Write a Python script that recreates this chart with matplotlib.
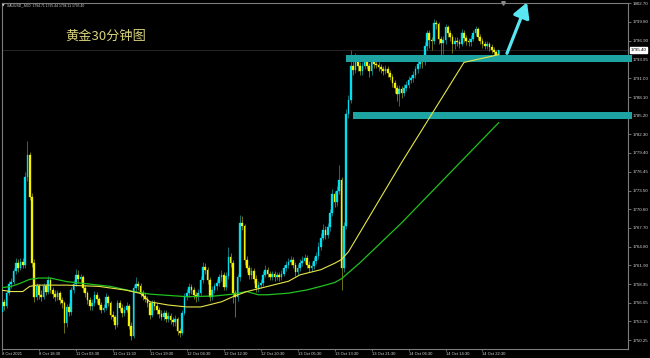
import numpy as np
import matplotlib
matplotlib.use("Agg")
import matplotlib.pyplot as plt
import matplotlib.transforms as mtransforms
from matplotlib.patches import Rectangle

# ---------------- data ----------------
header_text = "XAUUSD_,M30  1794.71 1795.44 1794.11 1795.40"
title_text = "黄金30分钟图"

first_open = 1754.6
closes = [
    1756.2, 1755.6, 1757.6, 1758.9, 1759.3, 1761.0, 1762.3, 1761.5, 1762.4, 1762.0,
    1775.7, 1779.1, 1772.6, 1762.3, 1757.0, 1758.6, 1757.3, 1757.0, 1758.6, 1757.8,
    1759.6, 1758.0, 1757.4, 1757.0, 1757.5, 1756.5, 1756.0, 1752.9, 1755.4, 1754.6,
    1758.0, 1759.0, 1760.3, 1759.8, 1760.0, 1758.3, 1757.5, 1756.5, 1755.5, 1756.0,
    1757.3, 1756.6, 1755.7, 1755.0, 1755.3, 1756.9, 1756.0, 1754.2, 1753.8, 1752.6,
    1756.0, 1755.3, 1754.5, 1755.0, 1755.5, 1752.5, 1750.8, 1758.3, 1759.0, 1758.7,
    1757.6, 1757.1, 1756.7, 1756.0, 1754.2, 1756.0, 1755.5, 1754.9, 1754.3, 1753.9,
    1754.4, 1753.6, 1754.0, 1753.3, 1753.0, 1753.5, 1751.6, 1751.3, 1754.5, 1757.0,
    1757.5, 1758.5, 1758.0, 1757.2, 1756.9, 1757.6, 1759.6, 1761.7, 1761.2, 1759.6,
    1757.0, 1758.0, 1758.6, 1759.2, 1760.0, 1760.4, 1758.5, 1760.2, 1763.2, 1762.3,
    1757.6, 1757.0, 1760.0, 1768.5, 1768.0, 1762.7, 1761.5, 1760.3, 1761.0, 1759.8,
    1758.3, 1758.8, 1759.1, 1760.4, 1761.2, 1760.6, 1760.1, 1760.5, 1760.0, 1760.4,
    1760.0, 1760.6, 1761.4, 1762.0, 1762.4, 1762.7, 1762.0, 1760.8, 1761.5, 1762.2,
    1762.6, 1763.0, 1762.0, 1761.5, 1761.8, 1762.6, 1763.3, 1764.8, 1766.2, 1767.4,
    1766.6, 1767.8, 1770.0, 1773.0, 1771.7, 1773.5, 1775.2, 1761.5, 1768.0, 1785.5,
    1787.7, 1792.9, 1792.3, 1793.5, 1792.9, 1792.1, 1793.0, 1793.9, 1793.0, 1792.1,
    1793.5, 1793.3, 1793.1, 1792.8, 1792.4, 1792.1, 1792.5, 1791.8, 1791.3, 1790.3,
    1789.5, 1788.5, 1789.3, 1788.7, 1789.5, 1790.0, 1790.8, 1791.0, 1791.6, 1792.4,
    1793.2, 1794.0, 1793.6, 1796.0, 1798.1, 1797.0, 1796.8, 1799.7, 1799.5, 1797.1,
    1796.5, 1797.0, 1799.0, 1798.1, 1797.5, 1796.3, 1796.9, 1796.6, 1796.4, 1798.1,
    1797.3, 1796.8, 1796.6, 1797.2, 1798.1, 1798.7, 1797.5, 1796.9, 1796.4, 1796.1,
    1796.3, 1795.9, 1795.5, 1795.1, 1794.71, 1795.40,
]
highs = [
    1756.8, 1756.6, 1758.0, 1759.4, 1759.9, 1761.5, 1763.0, 1762.8, 1763.1, 1763.0,
    1776.4, 1781.2, 1779.6, 1773.2, 1762.8, 1759.2, 1759.0, 1758.0, 1759.1, 1759.0,
    1760.2, 1760.0, 1758.5, 1758.0, 1758.1, 1757.9, 1757.0, 1756.4, 1755.9, 1756.0,
    1758.5, 1759.6, 1761.3, 1761.2, 1760.6, 1760.4, 1758.8, 1757.9, 1757.0, 1756.6,
    1757.9, 1757.8, 1757.0, 1756.1, 1755.9, 1757.5, 1757.3, 1756.4, 1754.8, 1754.2,
    1756.5, 1756.5, 1755.8, 1755.6, 1756.1, 1755.9, 1753.0, 1758.8, 1760.0, 1759.5,
    1759.1, 1758.1, 1757.6, 1757.1, 1756.4, 1756.5, 1756.5, 1756.0, 1755.4, 1754.9,
    1755.0, 1754.9, 1754.6, 1754.5, 1753.8, 1754.1, 1753.9, 1752.1, 1755.0, 1757.5,
    1758.2, 1759.2, 1759.0, 1758.5, 1757.8, 1758.2, 1760.2, 1762.4, 1762.3, 1761.6,
    1760.0, 1758.6, 1759.2, 1759.8, 1760.6, 1761.2, 1760.8, 1760.8, 1764.7, 1763.8,
    1762.7, 1758.1, 1760.5, 1769.8, 1769.5, 1768.4, 1763.4, 1762.0, 1761.6, 1761.5,
    1760.3, 1759.5, 1759.7, 1761.0, 1761.9, 1761.7, 1761.0, 1761.0, 1761.0, 1760.9,
    1760.8, 1761.2, 1762.0, 1762.6, 1763.1, 1763.4, 1763.2, 1762.4, 1762.1, 1762.8,
    1763.3, 1763.7, 1763.5, 1762.6, 1762.4, 1763.2, 1763.9, 1765.5, 1766.9, 1768.3,
    1768.0, 1768.5, 1770.7, 1773.7, 1773.5, 1774.2, 1777.5, 1775.6, 1768.6, 1786.2,
    1788.4, 1795.5, 1794.6, 1795.0, 1794.3, 1793.6, 1793.6, 1794.5, 1794.3, 1793.4,
    1794.1, 1794.0, 1794.0, 1793.6, 1793.3, 1792.9, 1793.1, 1792.9, 1792.3, 1791.7,
    1790.7, 1790.0, 1789.9, 1789.8, 1790.1, 1790.6, 1791.4, 1791.6, 1792.2, 1793.0,
    1793.8, 1794.6, 1794.5, 1796.6, 1798.6, 1798.5, 1797.5, 1800.2, 1800.1, 1799.8,
    1797.6, 1797.6, 1799.5, 1799.4, 1798.5, 1797.9, 1797.5, 1797.4, 1797.1, 1798.7,
    1798.6, 1797.8, 1797.3, 1797.8, 1798.6, 1799.1, 1799.0, 1797.9, 1797.3, 1796.9,
    1796.8, 1796.7, 1796.3, 1795.9, 1795.5, 1795.44,
]
lows = [
    1754.0, 1755.0, 1755.2, 1757.2, 1758.4, 1759.0, 1760.6, 1760.9, 1761.2, 1761.4,
    1761.5, 1775.0, 1772.0, 1761.6, 1756.2, 1756.5, 1756.7, 1756.4, 1756.6, 1757.2,
    1757.4, 1757.5, 1756.8, 1756.3, 1756.5, 1755.9, 1755.3, 1751.3, 1752.3, 1754.0,
    1754.2, 1757.5, 1758.6, 1759.2, 1759.2, 1757.8, 1756.9, 1755.9, 1754.9, 1755.0,
    1755.6, 1756.0, 1755.1, 1754.4, 1754.6, 1754.9, 1755.5, 1753.6, 1753.2, 1752.0,
    1752.2, 1754.8, 1753.9, 1754.0, 1754.6, 1752.0, 1750.3, 1750.5, 1757.8, 1758.0,
    1757.0, 1756.5, 1756.1, 1755.4, 1753.6, 1753.8, 1754.9, 1754.3, 1753.7, 1753.3,
    1753.4, 1753.0, 1753.1, 1752.8, 1752.4, 1752.5, 1751.0, 1750.7, 1751.0, 1754.1,
    1756.5, 1757.0, 1757.4, 1756.6, 1756.2, 1756.4, 1757.2, 1759.2, 1760.6, 1759.0,
    1756.3, 1756.5, 1757.5, 1758.1, 1758.7, 1759.5, 1758.0, 1758.0, 1759.8, 1761.7,
    1756.0, 1753.8, 1756.4, 1759.5, 1767.4, 1762.0, 1760.9, 1759.7, 1759.8, 1759.2,
    1757.7, 1757.8, 1758.3, 1758.7, 1760.0, 1760.1, 1759.6, 1759.6, 1759.5, 1759.6,
    1759.5, 1759.6, 1760.2, 1761.0, 1761.5, 1762.0, 1761.5, 1760.2, 1760.4, 1761.0,
    1761.8, 1762.2, 1761.5, 1760.9, 1761.0, 1761.3, 1762.1, 1762.9, 1764.3, 1765.8,
    1766.0, 1766.1, 1767.3, 1769.5, 1771.0, 1771.2, 1773.0, 1758.0, 1760.8, 1767.5,
    1784.8, 1787.2, 1791.6, 1791.8, 1792.2, 1791.5, 1791.6, 1792.5, 1792.4, 1791.3,
    1791.6, 1792.7, 1792.6, 1792.2, 1791.8, 1791.6, 1791.7, 1791.2, 1790.7, 1789.7,
    1788.8, 1787.5, 1786.7, 1788.0, 1788.2, 1789.0, 1789.5, 1790.3, 1790.5, 1791.1,
    1791.9, 1792.7, 1792.6, 1793.1, 1795.5, 1795.8, 1795.5, 1796.3, 1798.7, 1796.4,
    1794.0, 1794.8, 1796.4, 1797.4, 1796.8, 1795.0, 1795.6, 1796.0, 1795.8, 1796.0,
    1796.7, 1796.2, 1796.0, 1796.1, 1796.8, 1797.6, 1797.0, 1796.3, 1795.8, 1795.6,
    1795.6, 1795.3, 1795.0, 1794.6, 1794.3, 1794.11,
]
opens = [first_open] + closes[:-1]

# moving averages
ma_fast_bars = [0, 4, 9, 12, 15, 28, 42, 54, 60, 64, 72, 80, 86, 95, 100, 106,
                115, 124, 129, 138, 144, 147, 150, 173, 200, 215]
ma_fast_vals = [1758.0, 1757.8, 1757.8, 1758.6, 1758.8, 1758.8, 1758.6, 1758.0,
                1757.5, 1756.2, 1755.7, 1755.4, 1755.4, 1756.2, 1757.0, 1757.8,
                1758.6, 1759.4, 1760.4, 1761.2, 1762.2, 1762.8, 1764.0, 1777.9,
                1793.5, 1794.7]
ma_slow_bars = [0, 4, 8, 12, 16, 21, 28, 37, 47, 57, 64, 74, 80, 92, 100, 106,
                111, 115, 124, 132, 138, 144, 147, 155, 173, 194, 215]
ma_slow_vals = [1758.4, 1758.6, 1759.1, 1759.7, 1759.9, 1759.9, 1759.35, 1759.0,
                1758.6, 1757.8, 1757.4, 1757.15, 1757.0, 1757.1, 1757.4, 1757.8,
                1757.3, 1757.3, 1757.55, 1758.05, 1758.6, 1759.2, 1759.8, 1762.3,
                1768.5, 1776.3, 1784.1]

# support / resistance zones: (start bar, low price, high price)
zone_upper = (148.9, 1793.49, 1794.58)
zone_lower = (151.8, 1784.70, 1785.73)

arrow_from = (218.6, 1794.9)
arrow_to = (227.3, 1802.85)

last_price = 1795.40

y_ticks = [1802.70, 1799.80, 1796.90, 1793.95, 1791.00, 1788.10, 1785.20,
           1782.30, 1779.40, 1776.45, 1773.50, 1770.60, 1767.70, 1764.80,
           1761.90, 1758.95, 1756.05, 1753.15, 1750.25]
x_tick_bars = [0, 16, 32, 48, 64, 80, 96, 112, 128, 144, 160, 176, 192, 208]
x_tick_labels = ["8 Oct 2021", "8 Oct 18:30", "11 Oct 03:30", "11 Oct 11:30",
                 "11 Oct 19:30", "12 Oct 04:30", "12 Oct 12:30", "12 Oct 20:30",
                 "13 Oct 05:30", "13 Oct 13:30", "13 Oct 21:30", "14 Oct 06:30",
                 "14 Oct 14:30", "14 Oct 22:30"]

# ---------------- drawing ----------------
plt.rcParams["font.family"] = ["Liberation Sans", "DejaVu Sans"]

W, H = 650, 358
fig = plt.figure(figsize=(W / 100, H / 100), dpi=100, facecolor="black")
ax = fig.add_axes([1.5 / W, 1 - 349 / H, (628 - 1.5) / W, (349 - 3) / H])
ax.set_facecolor("black")
ax.set_xlim(-0.2, 271.0)
ax.set_ylim(1748.85, 1802.75)

o = np.array(opens)
c = np.array(closes)
h = np.array(highs)
l = np.array(lows)
x = np.arange(len(c))
bull = c >= o

bull_col, bear_col = "#00dff0", "#f2f200"
ax.vlines(x[bull], l[bull], h[bull], color="#1b8e96", lw=0.55, zorder=2)
ax.vlines(x[~bull], l[~bull], h[~bull], color="#8e8e1a", lw=0.55, zorder=2)
ax.bar(x[bull], c[bull] - o[bull], bottom=o[bull], width=0.72, color=bull_col,
       edgecolor=bull_col, linewidth=0.25, zorder=3)
ax.bar(x[~bull], c[~bull] - o[~bull], bottom=o[~bull], width=0.72, color=bear_col,
       edgecolor=bear_col, linewidth=0.25, zorder=3)

# bid line
ax.axhline(last_price, color="#2c2c2c", lw=0.6, zorder=1)

# zones
zone_col = "#1ea3a3"
for start, lo, hi in (zone_upper, zone_lower):
    ax.add_patch(Rectangle((start, lo), 272.7 - start, hi - lo, facecolor=zone_col,
                           edgecolor="none", zorder=4, clip_on=False))

# moving averages
ax.plot(ma_slow_bars, ma_slow_vals, color="#1fc21f", lw=0.9, zorder=5)
ax.plot(ma_fast_bars, ma_fast_vals, color="#e6e64a", lw=0.8, zorder=5)

# arrow
ax.annotate("", xy=arrow_to, xytext=arrow_from,
            arrowprops=dict(arrowstyle="-|>,head_length=0.9,head_width=0.5",
                            color="#58e6f2", lw=2.3, mutation_scale=10,
                            shrinkA=0, shrinkB=0),
            annotation_clip=False, zorder=6)

# chart-shift marker
ax.plot([216.9], [1802.75], marker="v", ms=2.6, color="#8a8a8a",
        clip_on=False, zorder=7)

# axes styling
for sp in ax.spines.values():
    sp.set_color("#7c7c7c")
    sp.set_linewidth(0.8)

ax.yaxis.tick_right()
ax.set_yticks(y_ticks)
ax.set_yticklabels([f"{v:.2f}" for v in y_ticks])
ax.tick_params(axis="y", colors="#7c7c7c", labelcolor="#d4d4d4", length=2,
               width=0.6, pad=1.2, labelsize=3.2)
ax.set_xticks(x_tick_bars)
ax.set_xticklabels(x_tick_labels)
ax.tick_params(axis="x", colors="#7c7c7c", labelcolor="#d4d4d4", length=1.5,
               width=0.6, pad=1.0, labelsize=3.0)
for lbl in ax.get_xticklabels():
    lbl.set_horizontalalignment("left")

# current price label
trans = mtransforms.blended_transform_factory(ax.transAxes, ax.transData)
ax.text(1.004, last_price, f"{last_price:.2f}", transform=trans, fontsize=3.2,
        color="black", va="center", ha="left", zorder=8,
        bbox=dict(facecolor="white", edgecolor="white", pad=0.7))

# header and title
fig.text(2.2 / W, 1 - 5.5 / H, "▼", fontsize=2.4, color="#d0d0d0",
         va="center", ha="left", family=["DejaVu Sans"])
fig.text(7 / W, 1 - 5.5 / H, header_text, fontsize=2.4, color="#d0d0d0",
         va="center", ha="left")
fig.text(65 / W, 1 - 36 / H, title_text, fontsize=9.5, color="#d8d27a",
         va="center", ha="left", family=["Noto Sans CJK SC", "DejaVu Sans"])

fig.savefig("out.png", dpi=100, facecolor="black")
